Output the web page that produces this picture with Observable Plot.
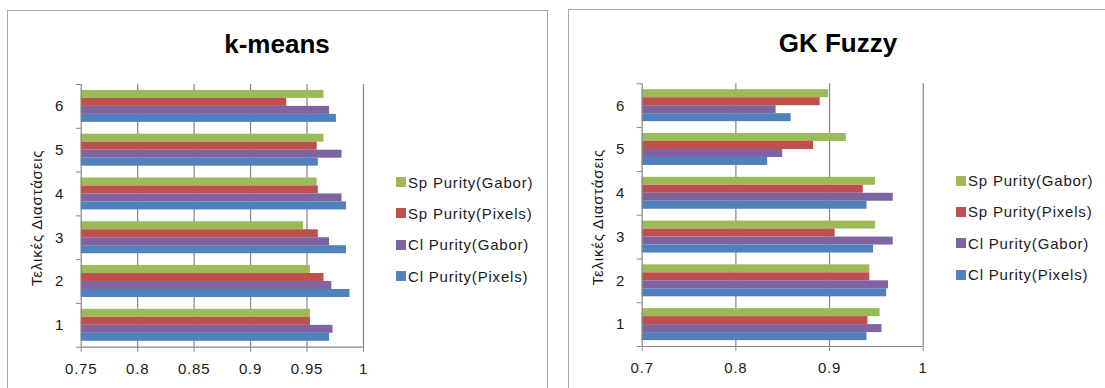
<!DOCTYPE html>
<html>
<head>
<meta charset="utf-8">
<script src="https://cdn.jsdelivr.net/npm/d3@7"></script>
<script src="https://cdn.jsdelivr.net/npm/@observablehq/plot@0.6"></script>
<style>
  html, body { margin: 0; padding: 0; background: #fff; }
  #root { position: relative; width: 1105px; height: 388px; overflow: hidden; font-family: "Liberation Sans", Arial, sans-serif; }
  .panel { position: absolute; box-sizing: border-box; border: 1.5px solid #a6a6a6; background: #fff; height: 420px; }
  .title { position: absolute; font-weight: bold; font-size: 26px; line-height: 26px; color: #000; text-align: center; white-space: nowrap; }
  .chart { position: absolute; top: 0; }
  .item { position: absolute; height: 18px; display: flex; align-items: center; font-size: 15px; letter-spacing: 0.8px; color: #1a1a1a; white-space: nowrap; }
  .sw { width: 10px; height: 10px; margin-right: 2px; flex: none; }
</style>
</head>
<body>
<div id="root"></div>
<script>
// ---- data ----
const categories = [1, 2, 3, 4, 5, 6];
const seriesNames = ["Sp Purity(Gabor)", "Sp Purity(Pixels)", "Cl Purity(Gabor)", "Cl Purity(Pixels)"];
const axisTitle = "Τελικές Διαστάσεις";

const kmeansTitle = "k-means";
const kmeansTicks = [0.75, 0.8, 0.85, 0.9, 0.95, 1];
const kmeansSpGabor  = [0.953, 0.953, 0.947, 0.959, 0.965, 0.965];
const kmeansSpPixels = [0.953, 0.965, 0.960, 0.960, 0.959, 0.932];
const kmeansClGabor  = [0.973, 0.972, 0.970, 0.981, 0.981, 0.970];
const kmeansClPixels = [0.970, 0.988, 0.985, 0.985, 0.960, 0.976];

const gkTitle = "GK Fuzzy";
const gkTicks = [0.7, 0.8, 0.9, 1];
const gkSpGabor  = [0.954, 0.943, 0.949, 0.949, 0.918, 0.899];
const gkSpPixels = [0.941, 0.943, 0.906, 0.936, 0.883, 0.890];
const gkClGabor  = [0.956, 0.963, 0.968, 0.968, 0.850, 0.843];
const gkClPixels = [0.940, 0.961, 0.947, 0.940, 0.834, 0.859];

// ---- styling ----
const palette = ["#9BBB59", "#C0504D", "#8064A2", "#4F81BD"];
const gridColor = "#868686";
const groupFrac = 0.73; // share of a category band filled by its bars

function rowsOf(seriesArrays) {
  const rows = [];
  const barH = groupFrac / seriesNames.length;
  seriesArrays.forEach((arr, s) => {
    categories.forEach((c, i) => {
      const top = c + groupFrac / 2 - s * barH;
      rows.push({cat: c, series: seriesNames[s], value: arr[i], y1: top - barH, y2: top});
    });
  });
  return rows;
}

function makeChart(cfg) {
  const xmin = cfg.ticks[0], xmax = cfg.ticks[cfg.ticks.length - 1];
  const rows = rowsOf(cfg.series);
  const bounds = [categories[0] - 0.5, ...categories.map(c => c + 0.5)];
  const ylo = bounds[0], yhi = bounds[bounds.length - 1];
  return Plot.plot({
    width: cfg.width,
    height: 388,
    marginLeft: cfg.ml,
    marginRight: cfg.mr,
    marginTop: cfg.mt,
    marginBottom: cfg.mb,
    style: {background: "transparent", fontFamily: "'Liberation Sans', Arial, sans-serif", fontSize: "15px", letterSpacing: "0.8px", color: "#1a1a1a", overflow: "visible"},
    x: {domain: [xmin, xmax], label: null},
    y: {domain: [ylo, yhi], label: null},
    color: {domain: seriesNames, range: palette},
    marks: [
      Plot.ruleX(cfg.ticks.slice(1), {y1: ylo, y2: yhi, stroke: gridColor, strokeWidth: 1.2}),
      Plot.rectX(rows, {x1: xmin, x2: "value", y1: "y1", y2: "y2", fill: "series"}),
      Plot.ruleX([xmin], {y1: ylo, y2: yhi, stroke: gridColor, strokeWidth: 1.2}),
      Plot.ruleY([ylo], {x1: xmin, x2: xmax, stroke: gridColor, strokeWidth: 1.2}),
      Plot.axisX({ticks: cfg.ticks, tickSize: 5, tickPadding: 11, stroke: gridColor, label: null,
        tickFormat: d => String(+d.toFixed(2))}),
      Plot.axisY({ticks: bounds, tickSize: 5, stroke: gridColor, tickFormat: () => "", label: null}),
      Plot.axisY({ticks: categories, tickSize: 0, tickPadding: 17, label: null, tickFormat: d => String(d)}),
      Plot.text([axisTitle], {frameAnchor: "left", textAnchor: "middle", rotate: -90, dx: -44, dy: 2, fontSize: 15, fill: "#1a1a1a"})
    ]
  });
}

const root = document.getElementById("root");

function addPanel(left, top, width) {
  const p = document.createElement("div");
  p.className = "panel";
  p.style.left = left + "px"; p.style.top = top + "px"; p.style.width = width + "px";
  root.appendChild(p);
}
function addTitle(text, centerX, top) {
  const t = document.createElement("div");
  t.className = "title";
  t.textContent = text;
  t.style.left = (centerX - 150) + "px"; t.style.width = "300px"; t.style.top = top + "px";
  root.appendChild(t);
}
function addLegend(left, firstCenter, step) {
  seriesNames.forEach((name, i) => {
    const it = document.createElement("div");
    it.className = "item";
    it.style.left = left + "px";
    it.style.top = (firstCenter + i * step - 9) + "px";
    const sw = document.createElement("span");
    sw.className = "sw"; sw.style.background = palette[i];
    const tx = document.createElement("span");
    tx.textContent = name;
    it.appendChild(sw); it.appendChild(tx);
    root.appendChild(it);
  });
}

addPanel(6.5, 10.3, 541);
addPanel(567.5, 9.3, 600);

const left = makeChart({ticks: kmeansTicks, series: [kmeansSpGabor, kmeansSpPixels, kmeansClGabor, kmeansClPixels],
  width: 560, ml: 80.7, mr: 197, mt: 84, mb: 41.3});
left.classList.add("chart"); left.style.left = "0px";
root.appendChild(left);

const right = makeChart({ticks: gkTicks, series: [gkSpGabor, gkSpPixels, gkClGabor, gkClPixels],
  width: 545, ml: 81.7, mr: 182.3, mt: 83.3, mb: 42});
right.classList.add("chart"); right.style.left = "560px";
root.appendChild(right);

addTitle(kmeansTitle, 277, 30.7);
addTitle(gkTitle, 838, 30.2);
addLegend(396, 182, 31.4);
addLegend(956, 180.5, 31.4);
</script>
</body>
</html>
